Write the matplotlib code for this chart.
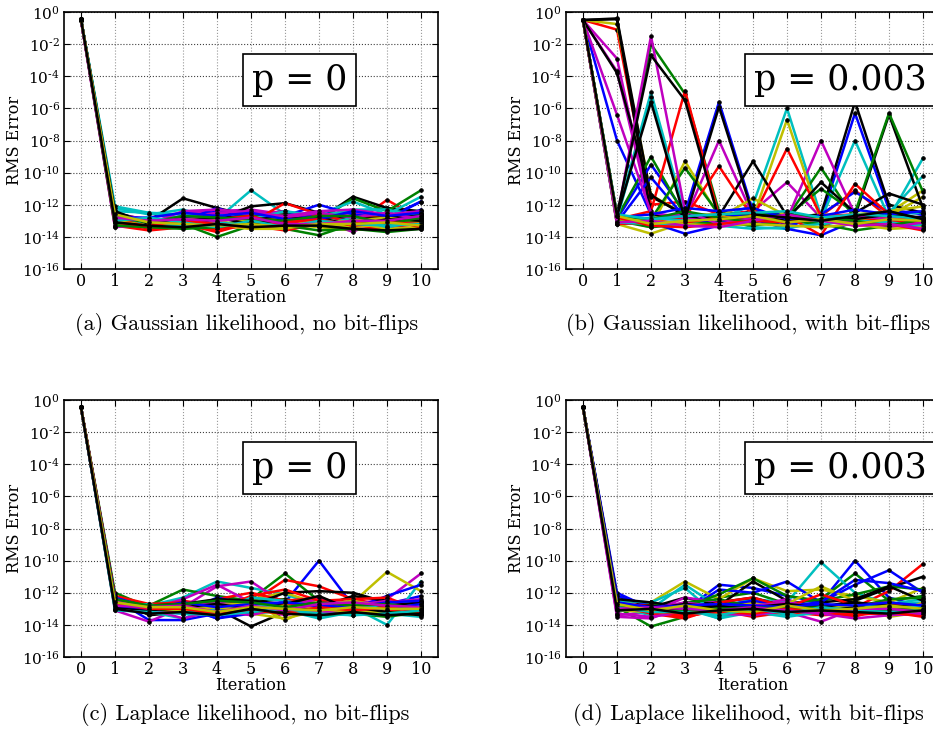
import matplotlib
matplotlib.use("Agg")
import matplotlib.pyplot as plt
import numpy as np

plt.rcParams['font.family'] = ['DejaVu Serif']
plt.rcParams['mathtext.fontset'] = 'dejavuserif'

# iteration numbers on the x axis
iterations = [0, 1, 2, 3, 4, 5, 6, 7, 8, 9, 10]

# colour of each run, classic cycle b g r c m y k
run_colors = ['b', 'g', 'r', 'c', 'm', 'y', 'k'] * 5

# log10(RMS error) of every run, per iteration
gauss_p0 = [
    [-0.45, -12.8, -13.0, -12.7, -12.3, -12.9, -13.1, -12.5, -13.0, -12.8, -11.8],
    [-0.45, -13.0, -13.4, -13.2, -14.0, -13.3, -13.5, -13.9, -13.2, -13.6, -13.4],
    [-0.45, -12.6, -13.5, -13.1, -13.6, -12.8, -12.4, -13.0, -13.2, -11.7, -12.9],
    [-0.45, -12.2, -12.6, -12.3, -12.9, -11.1, -12.6, -12.9, -12.4, -12.2, -12.7],
    [-0.50, -13.4, -12.8, -12.5, -12.4, -12.3, -12.6, -12.8, -12.5, -12.9, -12.6],
    [-0.45, -13.2, -13.1, -13.0, -13.3, -13.5, -13.2, -13.4, -13.6, -13.3, -13.0],
    [-0.45, -12.5, -13.0, -11.6, -12.2, -12.7, -12.4, -12.9, -11.5, -12.2, -12.4],
    [-0.45, -13.1, -12.9, -13.0, -12.4, -12.6, -12.9, -12.4, -12.8, -13.2, -12.3],
    [-0.45, -12.9, -13.3, -12.9, -13.1, -13.2, -12.7, -13.0, -11.6, -12.4, -11.1],
    [-0.45, -13.3, -13.6, -13.4, -13.5, -13.3, -13.6, -13.2, -13.5, -13.4, -13.2],
    [-0.45, -12.4, -12.5, -12.9, -13.0, -12.8, -13.1, -12.6, -11.8, -12.6, -11.5],
    [-0.50, -12.9, -13.2, -12.8, -12.5, -12.6, -12.4, -12.9, -13.7, -12.6, -12.9],
    [-0.45, -12.7, -13.4, -13.3, -13.0, -13.4, -13.0, -13.3, -13.1, -13.5, -13.4],
    [-0.45, -12.8, -12.9, -13.2, -12.9, -12.1, -11.9, -12.5, -13.0, -12.7, -12.6],
    [-0.45, -12.6, -13.1, -13.0, -12.2, -12.9, -12.7, -12.0, -12.6, -12.9, -11.8],
    [-0.45, -13.2, -12.9, -13.0, -12.8, -12.7, -12.6, -12.8, -12.9, -12.7, -12.6],
    [-0.45, -13.0, -13.5, -13.2, -13.7, -13.1, -11.9, -12.6, -12.8, -12.8, -13.1],
    [-0.45, -12.1, -12.5, -12.6, -12.7, -12.9, -12.4, -12.7, -12.3, -12.3, -12.8],
    [-0.55, -13.4, -13.2, -12.4, -12.3, -12.5, -12.7, -12.4, -12.3, -12.6, -12.4],
    [-0.45, -12.9, -13.0, -13.4, -13.2, -13.5, -13.5, -13.1, -13.4, -13.2, -13.3],
    [-0.45, -12.9, -13.1, -12.8, -12.7, -12.9, -12.8, -12.7, -12.9, -12.8, -12.7],
    [-0.45, -13.1, -13.2, -12.9, -12.6, -13.4, -13.0, -12.6, -13.1, -13.0, -12.7],
    [-0.45, -13.3, -13.4, -13.5, -13.4, -13.1, -13.3, -13.6, -13.5, -13.7, -13.5],
    [-0.45, -12.9, -13.2, -13.1, -12.9, -12.7, -13.3, -12.6, -13.1, -12.9, -13.4],
    [-0.45, -12.7, -13.2, -13.3, -13.1, -13.3, -13.2, -13.3, -12.8, -13.4, -13.0],
    [-0.50, -12.6, -12.9, -13.0, -12.5, -12.4, -12.8, -12.5, -12.8, -12.5, -12.9],
    [-0.45, -13.0, -13.3, -12.9, -12.9, -13.0, -12.9, -13.1, -13.0, -12.8, -13.1],
    [-0.45, -12.4, -13.2, -13.0, -12.8, -13.2, -12.9, -12.8, -13.3, -12.9, -13.0],
    [-0.45, -12.8, -12.8, -12.5, -12.7, -12.5, -12.9, -12.9, -12.4, -12.7, -12.5],
    [-0.45, -12.8, -13.1, -12.7, -12.8, -12.9, -13.0, -12.7, -12.7, -13.2, -12.8],
    [-0.45, -13.1, -13.3, -13.0, -13.2, -13.4, -13.1, -12.9, -13.3, -13.1, -13.2],
    [-0.45, -13.0, -12.8, -13.1, -13.4, -13.0, -13.4, -13.0, -13.2, -13.3, -13.2],
    [-0.50, -12.8, -13.0, -12.9, -13.0, -12.8, -13.2, -13.2, -13.0, -13.0, -12.7],
    [-0.45, -12.6, -13.1, -13.2, -13.3, -13.2, -13.4, -13.2, -13.2, -13.1, -13.3],
    [-0.45, -13.1, -13.3, -13.4, -13.2, -13.4, -13.3, -13.3, -13.5, -13.6, -13.5],
]

gauss_p003 = [
    [-0.5, -8.0, -12.6, -12.9, -13.1, -12.7, -13.2, -12.9, -6.3, -12.3, -12.6],
    [-0.5, -12.9, -2.0, -5.1, -12.4, -12.7, -12.8, -12.9, -12.7, -13.0, -12.8],
    [-0.5, -1.1, -12.0, -11.8, -12.6, -12.4, -12.9, -12.7, -11.1, -12.8, -13.4],
    [-0.5, -12.7, -5.0, -12.6, -12.9, -12.0, -6.0, -12.7, -12.8, -12.6, -12.5],
    [-0.5, -2.9, -12.7, -12.6, -12.8, -12.4, -10.6, -12.8, -12.9, -12.7, -12.8],
    [-0.5, -0.75, -11.4, -12.6, -12.6, -12.9, -12.8, -12.6, -12.7, -12.5, -11.1],
    [-0.5, -0.4, -11.5, -12.6, -12.9, -12.4, -12.8, -12.6, -5.6, -12.0, -12.5],
    [-0.5, -12.9, -9.5, -12.5, -5.6, -12.4, -12.6, -12.8, -12.9, -13.1, -12.7],
    [-0.5, -12.8, -9.0, -12.7, -12.9, -12.6, -12.8, -9.7, -12.9, -12.7, -13.0],
    [-0.5, -12.9, -12.4, -4.9, -12.7, -12.9, -12.6, -12.8, -12.8, -13.0, -13.2],
    [-0.5, -12.9, -5.3, -12.8, -12.7, -13.3, -13.0, -12.9, -8.0, -12.8, -9.1],
    [-0.5, -3.7, -12.6, -12.9, -8.0, -12.7, -12.9, -8.0, -12.6, -12.8, -12.9],
    [-0.5, -12.9, -13.4, -9.3, -12.7, -12.8, -6.7, -13.0, -12.9, -12.7, -11.5],
    [-0.5, -0.45, -12.6, -12.8, -12.7, -9.3, -12.7, -12.9, -12.7, -6.4, -12.2],
    [-0.5, -13.1, -10.3, -12.8, -12.6, -12.7, -13.4, -12.6, -11.2, -12.5, -12.9],
    [-0.5, -12.9, -12.9, -9.7, -12.6, -12.5, -12.7, -11.0, -12.5, -6.3, -11.2],
    [-0.5, -12.8, -13.0, -12.8, -9.6, -12.8, -8.5, -12.7, -12.6, -12.9, -13.5],
    [-0.5, -13.0, -12.8, -13.0, -12.8, -13.4, -13.5, -13.0, -12.6, -12.5, -10.2],
    [-0.5, -6.4, -12.5, -12.8, -12.9, -13.1, -12.8, -12.9, -12.7, -12.9, -13.0],
    [-0.5, -13.2, -13.8, -13.1, -12.8, -11.6, -12.7, -12.9, -12.6, -12.4, -12.1],
    [-0.5, -3.8, -11.4, -12.7, -12.9, -12.8, -12.9, -10.6, -12.5, -11.3, -12.0],
    [-0.5, -13.2, -13.1, -13.8, -13.3, -12.9, -13.5, -13.9, -13.0, -13.2, -13.4],
    [-0.5, -13.0, -13.4, -13.2, -13.1, -13.3, -13.0, -13.2, -13.6, -13.3, -13.1],
    [-0.5, -13.2, -13.1, -13.1, -12.8, -12.9, -12.7, -13.9, -10.7, -12.6, -13.2],
    [-0.5, -13.1, -13.2, -13.3, -13.3, -13.5, -13.4, -13.2, -13.0, -13.1, -13.3],
    [-0.5, -12.8, -1.5, -12.4, -13.2, -12.8, -12.9, -12.7, -13.1, -13.4, -13.1],
    [-0.5, -12.9, -13.0, -13.2, -13.3, -13.2, -13.3, -13.4, -13.2, -13.5, -13.4],
    [-0.5, -12.6, -2.7, -5.5, -12.9, -12.7, -13.0, -12.8, -12.9, -12.6, -12.8],
    [-0.5, -12.8, -12.6, -12.2, -12.4, -12.2, -12.9, -12.7, -12.3, -12.6, -12.4],
    [-0.5, -12.7, -12.9, -12.4, -12.8, -13.1, -12.6, -12.8, -13.0, -13.3, -12.9],
    [-0.5, -12.8, -13.3, -13.4, -13.2, -13.0, -13.1, -12.9, -13.3, -13.2, -13.6],
    [-0.5, -12.6, -12.9, -12.7, -12.6, -12.5, -12.4, -12.8, -12.6, -12.7, -12.9],
    [-0.5, -13.1, -13.0, -13.3, -13.4, -13.0, -12.6, -13.0, -13.3, -13.2, -13.5],
    [-0.5, -12.7, -13.2, -13.0, -12.9, -12.7, -13.1, -12.9, -13.2, -12.9, -13.0],
    [-0.5, -12.7, -5.6, -12.9, -5.9, -12.6, -12.8, -13.0, -12.7, -12.4, -12.9],
]

laplace_p0 = [
    [-0.45, -12.4, -13.7, -13.7, -13.3, -12.9, -12.6, -10.0, -12.8, -12.7, -12.2],
    [-0.45, -12.0, -12.9, -12.6, -12.7, -12.4, -10.8, -12.5, -12.9, -12.6, -12.9],
    [-0.45, -12.3, -13.0, -12.5, -12.8, -12.6, -11.2, -11.6, -12.4, -12.8, -12.6],
    [-0.45, -12.6, -12.8, -12.3, -11.3, -11.7, -12.1, -12.8, -12.9, -14.0, -11.3],
    [-0.45, -13.1, -13.8, -12.9, -11.6, -11.3, -12.7, -12.9, -12.7, -12.4, -10.8],
    [-0.45, -12.8, -13.2, -13.0, -12.6, -12.4, -12.0, -12.7, -12.6, -10.7, -11.9],
    [-0.45, -12.2, -13.4, -13.2, -13.0, -14.1, -13.2, -12.9, -12.2, -12.5, -12.9],
    [-0.45, -12.9, -13.1, -12.8, -13.6, -13.1, -13.0, -12.8, -13.0, -12.2, -11.5],
    [-0.45, -12.5, -12.8, -11.8, -12.2, -12.5, -12.4, -12.7, -13.3, -12.9, -12.8],
    [-0.45, -12.4, -12.9, -12.8, -12.4, -12.0, -12.5, -12.3, -12.9, -13.0, -12.5],
    [-0.45, -13.0, -13.2, -13.6, -12.8, -13.3, -13.1, -13.6, -13.2, -13.3, -13.5],
    [-0.45, -12.7, -13.0, -12.4, -11.5, -12.6, -12.8, -12.4, -12.7, -12.6, -12.4],
    [-0.45, -12.9, -12.8, -13.2, -13.0, -13.3, -13.6, -13.1, -13.4, -12.8, -13.2],
    [-0.45, -12.5, -12.9, -13.0, -12.9, -12.8, -12.0, -11.9, -12.0, -12.6, -13.0],
    [-0.45, -12.7, -13.1, -13.3, -12.3, -12.8, -12.7, -12.9, -13.1, -12.6, -12.8],
    [-0.45, -12.9, -13.3, -13.0, -12.7, -13.0, -12.9, -13.2, -13.4, -13.1, -13.3],
    [-0.45, -12.2, -12.7, -12.6, -13.0, -12.2, -11.8, -12.5, -12.4, -12.3, -13.1],
    [-0.45, -12.8, -13.0, -12.9, -13.2, -12.3, -12.5, -12.9, -13.0, -12.7, -12.6],
    [-0.45, -13.0, -13.2, -12.7, -12.6, -12.9, -13.4, -13.0, -12.8, -12.5, -12.9],
    [-0.45, -12.6, -13.0, -12.9, -12.8, -12.6, -13.7, -12.8, -12.5, -12.9, -12.7],
    [-0.45, -12.7, -12.8, -12.7, -12.4, -12.5, -12.7, -12.2, -13.1, -12.8, -12.6],
    [-0.45, -12.3, -12.9, -12.9, -13.6, -13.3, -12.9, -12.9, -12.9, -12.6, -12.5],
    [-0.45, -12.8, -13.1, -13.2, -13.1, -13.2, -13.2, -13.4, -13.3, -13.5, -13.2],
    [-0.45, -12.6, -13.3, -13.1, -13.2, -13.0, -12.8, -12.7, -13.0, -13.1, -12.9],
    [-0.45, -12.9, -12.7, -13.2, -13.0, -12.7, -13.0, -13.5, -12.7, -13.0, -12.8],
    [-0.45, -12.5, -13.0, -13.6, -13.1, -13.4, -12.9, -13.2, -13.1, -12.9, -13.1],
    [-0.45, -13.0, -12.9, -13.1, -12.9, -13.1, -12.8, -13.0, -13.2, -13.2, -13.4],
    [-0.45, -12.9, -13.1, -12.9, -12.7, -13.0, -13.1, -13.0, -12.9, -13.2, -13.4],
    [-0.45, -12.8, -13.0, -12.6, -12.9, -12.7, -12.6, -12.8, -12.9, -13.0, -12.7],
    [-0.45, -12.4, -12.8, -12.7, -12.5, -12.6, -12.9, -12.6, -12.8, -12.7, -13.0],
    [-0.45, -12.7, -13.0, -13.0, -13.3, -13.1, -13.3, -12.9, -13.1, -12.9, -13.2],
    [-0.45, -13.1, -13.2, -13.3, -13.4, -13.2, -13.0, -13.3, -13.4, -13.3, -13.1],
    [-0.45, -12.8, -12.9, -12.8, -13.2, -12.8, -13.1, -12.7, -12.6, -12.8, -12.9],
    [-0.45, -12.6, -12.9, -12.9, -13.2, -12.9, -13.0, -13.1, -12.9, -13.0, -13.0],
    [-0.45, -13.0, -13.3, -13.2, -13.4, -13.0, -13.3, -13.4, -13.2, -13.4, -13.3],
]

laplace_p003 = [
    [-0.45, -12.0, -13.0, -13.1, -11.5, -11.7, -12.2, -12.6, -10.0, -12.3, -12.9],
    [-0.45, -12.9, -14.1, -13.5, -12.3, -12.0, -12.7, -12.4, -10.8, -12.5, -12.2],
    [-0.45, -12.5, -13.3, -13.6, -12.9, -13.2, -12.8, -13.0, -12.9, -11.9, -10.2],
    [-0.45, -12.7, -13.0, -11.5, -12.9, -12.4, -12.6, -10.1, -12.0, -12.7, -12.4],
    [-0.45, -13.5, -13.6, -12.8, -13.0, -12.7, -13.2, -13.8, -13.0, -13.2, -12.9],
    [-0.45, -12.6, -12.6, -11.3, -12.4, -11.1, -11.9, -11.8, -12.2, -12.6, -11.7],
    [-0.45, -12.2, -12.9, -12.3, -12.8, -11.3, -12.5, -12.9, -12.5, -11.7, -11.0],
    [-0.45, -12.2, -12.8, -13.2, -11.8, -12.0, -11.3, -12.6, -11.5, -10.6, -12.0],
    [-0.45, -13.2, -12.7, -12.9, -12.1, -11.1, -12.2, -12.5, -12.1, -11.6, -11.8],
    [-0.45, -12.9, -13.1, -13.5, -12.7, -13.3, -12.9, -13.3, -13.5, -12.8, -13.1],
    [-0.45, -12.5, -12.6, -11.7, -13.5, -12.9, -13.3, -12.8, -12.9, -12.7, -12.6],
    [-0.45, -13.4, -13.2, -12.3, -12.6, -12.8, -12.4, -13.2, -12.7, -13.0, -12.8],
    [-0.45, -12.8, -13.3, -12.9, -13.0, -12.6, -12.7, -11.6, -12.5, -13.4, -12.6],
    [-0.45, -12.4, -12.6, -12.9, -12.6, -12.3, -12.9, -12.6, -12.4, -11.6, -12.5],
    [-0.45, -12.7, -12.9, -12.7, -12.8, -12.5, -12.8, -12.6, -11.2, -11.4, -11.9],
    [-0.45, -13.0, -13.2, -12.6, -12.4, -12.9, -13.1, -12.8, -12.9, -12.4, -12.3],
    [-0.45, -12.7, -12.8, -13.2, -12.6, -12.3, -12.9, -12.1, -12.8, -12.6, -13.2],
    [-0.45, -12.9, -13.4, -13.0, -13.6, -12.9, -13.4, -13.0, -12.7, -12.9, -13.0],
    [-0.45, -12.6, -13.0, -12.6, -12.9, -12.8, -12.6, -13.0, -13.1, -13.3, -12.7],
    [-0.45, -13.1, -13.2, -13.3, -13.2, -13.1, -13.2, -12.9, -12.8, -13.5, -13.2],
    [-0.45, -12.8, -13.0, -12.7, -12.9, -12.9, -12.7, -12.9, -12.6, -12.8, -12.9],
    [-0.45, -13.0, -13.1, -13.1, -13.0, -12.9, -13.2, -13.1, -13.3, -13.0, -13.1],
    [-0.45, -12.9, -13.1, -13.0, -12.9, -13.2, -12.9, -13.0, -13.1, -12.9, -12.9],
    [-0.45, -12.8, -13.3, -13.5, -13.1, -13.5, -13.2, -13.4, -13.3, -13.3, -13.4],
    [-0.45, -13.1, -13.0, -12.9, -13.6, -13.2, -13.5, -13.2, -13.0, -13.1, -12.8],
    [-0.45, -13.3, -13.5, -13.2, -13.3, -13.4, -13.1, -13.3, -13.6, -13.4, -13.3],
    [-0.45, -12.9, -13.0, -13.1, -13.3, -13.0, -12.9, -13.1, -13.2, -12.9, -13.1],
    [-0.45, -12.9, -12.8, -13.1, -12.8, -13.1, -13.0, -13.2, -12.9, -13.1, -13.0],
    [-0.45, -12.6, -12.9, -12.8, -12.7, -12.8, -12.9, -12.7, -12.8, -12.6, -12.8],
    [-0.45, -12.8, -13.2, -13.1, -13.0, -12.9, -13.0, -12.9, -13.2, -13.1, -13.0],
    [-0.45, -13.0, -13.1, -13.4, -13.2, -13.3, -13.0, -13.2, -13.4, -13.2, -13.5],
    [-0.45, -12.9, -13.2, -13.2, -13.4, -13.0, -13.3, -12.9, -13.1, -13.2, -13.1],
    [-0.45, -13.0, -12.9, -13.0, -13.1, -12.9, -13.1, -13.3, -13.0, -13.0, -13.2],
    [-0.45, -12.7, -13.1, -12.8, -13.1, -13.2, -12.8, -13.1, -13.0, -12.8, -13.0],
    [-0.45, -13.1, -13.0, -13.3, -13.1, -13.0, -13.2, -13.1, -13.2, -13.3, -13.1],
]

panel_labels = ['p = 0', 'p = 0.003', 'p = 0', 'p = 0.003']
captions = ['(a) Gaussian likelihood, no bit-flips',
            '(b) Gaussian likelihood, with bit-flips',
            '(c) Laplace likelihood, no bit-flips',
            '(d) Laplace likelihood, with bit-flips']
yticks_exp = [0, -2, -4, -6, -8, -10, -12, -14, -16]

W, H = 933, 730
fig = plt.figure(figsize=(W / 100, H / 100), dpi=100)

# axes rectangles in pixels: left, top
ax_px = [(64, 12), (566, 12), (64, 400), (566, 400)]
ax_w, ax_h = 374, 257
caption_px = [(247, 325), (748, 325), (245, 715), (748, 715)]

all_runs = [gauss_p0, gauss_p003, laplace_p0, laplace_p003]


def ytick_text(e):
    # short hyphen in the exponent, like the old classic style
    if e < 0:
        return '$10^{\u2010%d}$' % (-e)
    return '$10^{%d}$' % e


for k in range(4):
    left, top = ax_px[k]
    ax = fig.add_axes([left / W, 1 - (top + ax_h) / H, ax_w / W, ax_h / H])
    for i, run in enumerate(all_runs[k]):
        ax.plot(iterations, 10.0 ** np.array(run), color=run_colors[i],
                lw=1.8, marker='o', ms=2.6, mec='k', mfc='k', mew=0.6)
    ax.set_yscale('log')
    ax.set_xlim(-0.5, 10.5)
    ax.set_ylim(1e-16, 1e0)
    ax.set_yticks([10.0 ** e for e in yticks_exp])
    ax.set_yticklabels([ytick_text(e) for e in yticks_exp])
    ax.yaxis.set_minor_locator(matplotlib.ticker.NullLocator())
    ax.set_xticks(iterations)
    ax.tick_params(direction='in', top=True, right=True, length=4,
                   labelsize=11.5, pad=3)
    ax.tick_params(axis='y', labelsize=11)
    ax.xaxis.grid(True, color='0.6', linestyle=':', linewidth=0.8)
    ax.yaxis.grid(True, color='0.25', linestyle=':', linewidth=0.8)
    for s in ax.spines.values():
        s.set_linewidth(1.2)
    ax.set_xlabel('Iteration', fontsize=11.5, labelpad=-1)
    ax.set_ylabel('RMS Error', fontsize=11.5, labelpad=-1)
    ax.text(0.503, 0.735, panel_labels[k], transform=ax.transAxes,
            fontsize=25, ha='left', va='center',
            bbox=dict(boxstyle='square,pad=0.25', fc='white', ec='k', lw=1.2))
    cx, cy = caption_px[k]
    fig.text(cx / W, 1 - cy / H, captions[k], family='cmr10', fontsize=16,
             ha='center', va='center')

fig.savefig('out.png', dpi=100)
